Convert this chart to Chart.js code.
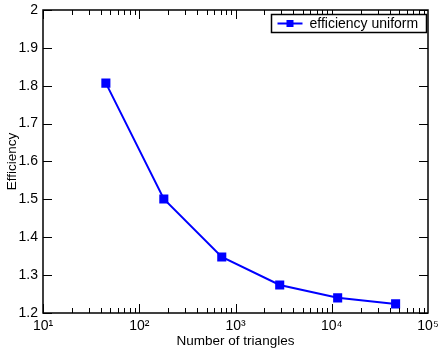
<!DOCTYPE html>
<html>
<head>
<meta charset="utf-8">
<script src="https://cdn.jsdelivr.net/npm/chart.js@4/dist/chart.umd.min.js"></script>
<style>
  html, body { margin: 0; padding: 0; background: #fff; }
  #wrap { width: 439px; height: 349px; }
</style>
</head>
<body>
<div id="wrap"><canvas id="chart" width="439" height="349"></canvas></div>
<script>
// data
const triangles = [45, 180, 720, 2880, 11520, 46080];
const efficiency = [1.807, 1.501, 1.348, 1.274, 1.240, 1.224];
const seriesLabel = 'efficiency uniform';
const xTicks = [10, 100, 1000, 10000, 100000];
const xTickLabels = ['10\u00b9', '10\u00b2', '10\u00b3', '10\u2074', '10\u2075'];
const yMin = 1.2, yMax = 2, yStep = 0.1;

const FONT = "'Liberation Sans', Arial, sans-serif";
const BLUE = '#0000ff';

// inward ticks on all four sides, frame and legend box
const framePlugin = {
  id: 'frame',
  afterDraw(chart) {
    const { ctx, chartArea: a, scales } = chart;
    const x = scales.x, y = scales.y;
    ctx.save();
    ctx.strokeStyle = '#000';
    ctx.lineWidth = 1.5;
    ctx.strokeRect(a.left, a.top, a.right - a.left, a.bottom - a.top);

    ctx.lineWidth = 1;
    ctx.beginPath();
    for (let d = 1; d < 5; d++) {
      for (let k = 1; k < 10; k++) {
        const px = Math.round(x.getPixelForValue(k * Math.pow(10, d))) + 0.5;
        const len = k === 1 ? 9 : 5;
        ctx.moveTo(px, a.bottom); ctx.lineTo(px, a.bottom - len);
        ctx.moveTo(px, a.top); ctx.lineTo(px, a.top + len);
      }
    }
    y.ticks.forEach(t => {
      const py = Math.round(y.getPixelForValue(t.value)) + 0.5;
      ctx.moveTo(a.left, py); ctx.lineTo(a.left + 9, py);
      ctx.moveTo(a.right, py); ctx.lineTo(a.right - 9, py);
    });
    ctx.stroke();

    // legend
    const bx = 271.5, by = 14.5, bw = 155, bh = 18;
    ctx.fillStyle = '#fff';
    ctx.fillRect(bx, by, bw, bh);
    ctx.lineWidth = 1.5;
    ctx.strokeRect(bx, by, bw, bh);
    const ds = chart.data.datasets[0];
    ctx.strokeStyle = ds.borderColor;
    ctx.lineWidth = 2;
    ctx.beginPath();
    ctx.moveTo(bx + 6, by + bh / 2); ctx.lineTo(bx + 31, by + bh / 2);
    ctx.stroke();
    ctx.fillStyle = ds.borderColor;
    ctx.fillRect(bx + 15, by + bh / 2 - 3.5, 7, 7);
    ctx.fillStyle = '#000';
    ctx.font = '14px ' + FONT;
    ctx.textBaseline = 'middle';
    ctx.fillText(ds.label, bx + 38, by + bh / 2 + 0.5);
    ctx.restore();
  }
};

new Chart(document.getElementById('chart'), {
  type: 'line',
  data: {
    datasets: [{
      label: seriesLabel,
      data: triangles.map((t, i) => ({ x: t, y: efficiency[i] })),
      borderColor: BLUE,
      backgroundColor: BLUE,
      borderWidth: 2,
      pointStyle: 'rect',
      pointRadius: 5,
      pointHoverRadius: 5,
      tension: 0,
    }],
  },
  options: {
    responsive: false,
    animation: false,
    layout: { padding: { top: 10, right: 11, left: 0, bottom: 0 } },
    plugins: {
      legend: { display: false },
      tooltip: { enabled: false },
    },
    scales: {
      x: {
        type: 'logarithmic',
        min: 10,
        max: 100000,
        afterBuildTicks: scale => { scale.ticks = xTicks.map(v => ({ value: v })); },
        afterFit: scale => {
          scale.height = 36;
          scale.paddingLeft = 0;
          scale.paddingRight = 0;
        },
        grid: { display: false, drawTicks: false },
        border: { display: false },
        ticks: {
          autoSkip: false,
          maxRotation: 0,
          padding: 5,
          color: '#000',
          font: { family: FONT, size: 14 },
          callback: v => xTickLabels[xTicks.indexOf(v)] ?? '',
        },
        title: {
          display: true,
          text: 'Number of triangles',
          color: '#000',
          font: { family: FONT, size: 13.5 },
          padding: { top: 0, bottom: 0 },
        },
      },
      y: {
        min: yMin,
        max: yMax,
        afterFit: scale => {
          scale.width = 43;
          scale.paddingTop = 0;
          scale.paddingBottom = 0;
        },
        grid: { display: false, drawTicks: false },
        border: { display: false },
        ticks: {
          stepSize: yStep,
          padding: 5,
          color: '#000',
          font: { family: FONT, size: 14 },
          callback: v => String(parseFloat(v.toFixed(1))),
        },
        title: {
          display: true,
          text: 'Efficiency',
          color: '#000',
          font: { family: FONT, size: 13.5 },
          padding: { top: 4, bottom: 0 },
        },
      },
    },
  },
  plugins: [framePlugin],
});
</script>
</body>
</html>
